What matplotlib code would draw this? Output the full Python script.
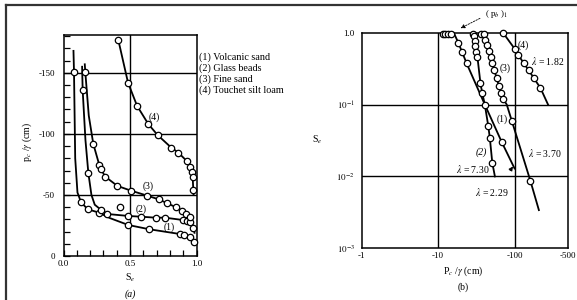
import numpy as np
import matplotlib.pyplot as plt
from matplotlib.lines import Line2D

plt.rcParams["font.family"] = "Liberation Serif"
plt.rcParams["mathtext.fontset"] = "stix"

# ---- panel (a): capillary pressure head vs effective saturation ----
legend_labels = ["(1) Volcanic sand", "(2) Glass beads", "(3) Fine sand", "(4) Touchet silt loam"]

a1_line_x = [0.075, 0.079, 0.088, 0.105, 0.132, 0.182, 0.267, 0.35, 0.487, 0.645, 0.876, 0.951, 0.985]
a1_line_y = [-168, -150.5, -80, -52, -44, -38.3, -35.5, -31, -25.4, -21.9, -18, -15.3, -10]
a1_pts_x = [0.079, 0.132, 0.182, 0.267, 0.487, 0.645, 0.876, 0.906, 0.951, 0.981]
a1_pts_y = [-150.5, -44, -38.3, -35.5, -25.4, -21.9, -18, -17.2, -15.3, -11.7]

a2_line_x = [0.140, 0.144, 0.165, 0.187, 0.21, 0.235, 0.28, 0.33, 0.487, 0.58, 0.693, 0.763, 0.896, 0.926, 0.951, 0.985]
a2_line_y = [-155, -136, -95, -67.8, -50, -42, -38, -34.4, -32.8, -32.2, -31.4, -31.4, -29.5, -28.7, -27.5, -21]
a2_pts_x = [0.144, 0.187, 0.28, 0.33, 0.487, 0.58, 0.693, 0.763, 0.896, 0.926, 0.951]
a2_pts_y = [-136, -67.8, -38, -34.4, -32.8, -32.2, -31.4, -31.4, -29.5, -28.7, -27.5]
a2_odd_x = [0.425]
a2_odd_y = [-40]

a3_line_x = [0.160, 0.164, 0.19, 0.224, 0.269, 0.28, 0.314, 0.405, 0.505, 0.63, 0.716, 0.78, 0.846, 0.891, 0.921, 0.951, 0.976, 0.985]
a3_line_y = [-157, -150.5, -115, -91.8, -74.6, -71.3, -65, -57.4, -53.6, -49.4, -46.4, -43.2, -39.9, -37.2, -34.4, -31.7, -23.2, -19]
a3_pts_x = [0.164, 0.224, 0.269, 0.28, 0.314, 0.405, 0.505, 0.63, 0.716, 0.78, 0.846, 0.891, 0.921, 0.951, 0.976]
a3_pts_y = [-150.5, -91.8, -74.6, -71.3, -65, -57.4, -53.6, -49.4, -46.4, -43.2, -39.9, -37.2, -34.4, -31.7, -23.2]

a4_pts_x = [0.412, 0.485, 0.553, 0.638, 0.708, 0.81, 0.863, 0.926, 0.951, 0.964, 0.971, 0.976]
a4_pts_y = [-177, -142, -123, -108, -99, -88.8, -84.7, -77.9, -73.2, -69, -65, -54]
a4_end = (0.978, -50)

# ---- panel (b): log-log, |Pc/gamma| vs Se ----
b1_line_x = [11.5, 12.4, 13.5, 14.8, 16.0, 18.3, 20.5, 23.6, 40.8, 68, 100]
b1_line_y = [0.97, 0.97, 0.97, 0.97, 1.0, 0.73, 0.544, 0.374, 0.1, 0.030, 0.0129]
b1_pts_x = [11.5, 12.4, 13.5, 14.8, 18.3, 20.5, 23.6, 40.8, 68]
b1_pts_y = [0.97, 0.97, 0.97, 0.97, 0.73, 0.544, 0.374, 0.1, 0.030]

b2_line_x = [28.6, 29.5, 30.1, 30.7, 31.7, 32.7, 35.8, 37.7, 40.8, 45.3, 47.5, 51.1, 55.3]
b2_line_y = [0.97, 0.9, 0.774, 0.653, 0.544, 0.454, 0.197, 0.146, 0.1, 0.05, 0.034, 0.0155, 0.01]
b2_pts_x = [28.6, 29.5, 30.1, 30.7, 31.7, 32.7, 35.8, 37.7, 45.3, 47.5, 51.1]
b2_pts_y = [0.97, 0.9, 0.774, 0.653, 0.544, 0.454, 0.197, 0.146, 0.05, 0.034, 0.0155]

b3_line_x = [36.9, 39.6, 41.0, 43.4, 46.1, 48.5, 51.1, 54.3, 58.3, 62.5, 66.5, 71.5, 79, 92, 161, 208]
b3_line_y = [0.97, 0.97, 0.79, 0.674, 0.556, 0.463, 0.382, 0.302, 0.232, 0.181, 0.143, 0.118, 0.1, 0.0594, 0.0087, 0.0034]
b3_pts_x = [36.9, 39.6, 41.0, 43.4, 46.1, 48.5, 51.1, 54.3, 58.3, 62.5, 66.5, 71.5, 92, 161]
b3_pts_y = [0.97, 0.97, 0.79, 0.674, 0.556, 0.463, 0.382, 0.302, 0.232, 0.181, 0.143, 0.118, 0.0594, 0.0087]

b4_line_x = [71.5, 100, 112, 131, 153, 178, 218, 274]
b4_line_y = [0.98, 0.60, 0.49, 0.38, 0.30, 0.235, 0.17, 0.1]
b4_pts_x = [71.5, 100, 112, 131, 153, 178, 218]
b4_pts_y = [0.98, 0.60, 0.49, 0.38, 0.30, 0.235, 0.17]


def circles(ax, x, y):
    ax.plot(x, y, linestyle="none", marker="o", ms=4.6, mfc="white",
            mec="black", mew=0.9, zorder=5, clip_on=False)


def main():
    fig = plt.figure(figsize=(5.77, 3.0), dpi=100)
    W, H = 577.0, 300.0

    def fx(px):
        return px / W

    def fy(py):
        return 1 - py / H

    # scan frame
    fig.add_artist(Line2D([fx(6), fx(6)], [0, fy(5)], transform=fig.transFigure, color="0.2", lw=1.6))
    fig.add_artist(Line2D([fx(6), 1], [fy(5), fy(5)], transform=fig.transFigure, color="0.2", lw=1.6))

    # ---------------- (a) ----------------
    ax1 = fig.add_axes([fx(63.5), fy(256), (196.5 - 63.5) / W, (256 - 35) / H])
    ax1.set_xlim(0, 1.0)
    ax1.set_ylim(0, -181)
    for v in [-50, -100, -150]:
        ax1.axhline(v, color="black", lw=1.0, zorder=1)
    ax1.axvline(0.5, color="black", lw=1.0, zorder=1)

    ax1.plot(a1_line_x, a1_line_y, color="black", lw=1.3)
    ax1.plot(a2_line_x, a2_line_y, color="black", lw=1.3)
    ax1.plot(a3_line_x, a3_line_y, color="black", lw=1.3)
    ax1.plot(a4_pts_x + [a4_end[0]], a4_pts_y + [a4_end[1]], color="black", lw=1.3)
    circles(ax1, a1_pts_x, a1_pts_y)
    circles(ax1, a2_pts_x, a2_pts_y)
    circles(ax1, a2_odd_x, a2_odd_y)
    circles(ax1, a3_pts_x, a3_pts_y)
    circles(ax1, a4_pts_x, a4_pts_y)

    ax1.text(0.795, -24, "(1)", fontsize=7, ha="center", va="center")
    ax1.text(0.58, -38.5, "(2)", fontsize=7, ha="center", va="center")
    ax1.text(0.633, -57.5, "(3)", fontsize=7, ha="center", va="center")
    ax1.text(0.683, -114, "(4)", fontsize=7, ha="center", va="center")

    ax1.set_xticks([0.0, 0.5, 1.0])
    ax1.set_xticklabels(["0.0", "0.5", "1.0"])
    ax1.set_xticks(np.arange(0, 1.01, 0.1), minor=True)
    ax1.set_yticks([0, -50, -100, -150])
    ax1.set_yticklabels(["0", "-50", "-100", "-150"])
    ax1.set_yticks(np.arange(0, -181, -10), minor=True)
    ax1.tick_params(which="both", direction="in", length=4, width=0.9, top=False, right=False)
    ax1.tick_params(axis="x", which="major", labelsize=6.5, pad=3)
    ax1.tick_params(axis="y", which="major", labelsize=6.5, pad=6)
    for s in ax1.spines.values():
        s.set_linewidth(1.1)

    fig.text(fx(27), fy(142), r"p$_c$ /$\gamma$ (cm)", rotation=90, fontsize=7, ha="center", va="center")
    fig.text(fx(130), fy(278), r"S$_e$", fontsize=7, ha="center", va="center")
    fig.text(fx(130), fy(294), "(a)", fontsize=7, style="italic", ha="center", va="center")
    for i, lab in enumerate(legend_labels):
        fig.text(fx(199), fy(57 + 11.2 * i), lab, fontsize=7.3, ha="left", va="center")

    # ---------------- (b) ----------------
    ax2 = fig.add_axes([fx(361.7), fy(248.3), (568 - 361.7) / W, (248.3 - 32.7) / H])
    ax2.set_xscale("log")
    ax2.set_yscale("log")
    ax2.set_xlim(1, 500)
    ax2.set_ylim(1e-3, 1.0)
    for v in [10, 100]:
        ax2.axvline(v, color="black", lw=1.0, zorder=1)
    for v in [1e-1, 1e-2]:
        ax2.axhline(v, color="black", lw=1.0, zorder=1)

    ax2.plot(b1_line_x, b1_line_y, color="black", lw=1.3, clip_on=False)
    ax2.plot(b2_line_x, b2_line_y, color="black", lw=1.3, clip_on=False)
    ax2.plot(b3_line_x, b3_line_y, color="black", lw=1.3, clip_on=False)
    ax2.plot(b4_line_x, b4_line_y, color="black", lw=1.3, clip_on=False)
    circles(ax2, b1_pts_x, b1_pts_y)
    circles(ax2, b2_pts_x, b2_pts_y)
    circles(ax2, b3_pts_x, b3_pts_y)
    circles(ax2, b4_pts_x, b4_pts_y)

    ax2.text(131, 0.674, "(4)", fontsize=7, ha="center", va="center")
    ax2.text(75, 0.32, "(3)", fontsize=7, ha="center", va="center")
    ax2.text(68, 0.0622, "(1)", fontsize=7, ha="center", va="center")
    ax2.text(36.9, 0.022, "(2)", fontsize=7, style="italic", ha="center", va="center")
    ax2.text(166, 0.404, r"$\lambda$ = 1.82", fontsize=7, ha="left", va="center")
    ax2.text(150, 0.0214, r"$\lambda$ = 3.70", fontsize=7, ha="left", va="center")
    ax2.text(47.5, 0.0126, r"$\lambda$ = 7.30", fontsize=7, ha="right", va="center")
    ax2.text(30, 0.0061, r"$\lambda$ = 2.29", fontsize=7, ha="left", va="center")
    ax2.annotate("", xy=(100, 0.0148), xytext=(83.3, 0.0112),
                 arrowprops=dict(arrowstyle="-|>", color="black", lw=0.7, mutation_scale=6))
    ax2.annotate("", xy=(18.3, 1.11), xytext=(38, 1.65), annotation_clip=False,
                 arrowprops=dict(arrowstyle="-|>", color="black", lw=0.6, ls=(0, (2, 1.5)),
                                 mutation_scale=6))
    ax2.text(58.3, 1.82, r"( p$_b$ )$_1$", fontsize=6.5, ha="center", va="center", clip_on=False)

    ax2.set_xticks([1, 10, 100, 500])
    ax2.set_xticklabels(["-1", "-10", "-100", "-500"])
    ax2.set_xticks([], minor=True)
    ax2.set_yticks([1e-3, 1e-2, 1e-1, 1.0])
    ax2.set_yticklabels([r"$10^{-3}$", r"$10^{-2}$", r"$10^{-1}$", "1.0"])
    ax2.set_yticks([], minor=True)
    ax2.tick_params(which="both", length=0, labelsize=6.5)
    ax2.tick_params(axis="x", pad=3)
    ax2.tick_params(axis="y", pad=5)
    for s in ax2.spines.values():
        s.set_linewidth(1.1)

    fig.text(fx(316.7), fy(140), r"S$_e$", fontsize=7, ha="center", va="center")
    fig.text(fx(463.3), fy(271.7), r"P$_c$ /$\gamma$ (cm)", fontsize=7, ha="center", va="center")
    fig.text(fx(463.3), fy(286.7), "(b)", fontsize=7, ha="center", va="center")

    plt.savefig("out.png", dpi=100)
    plt.close()


if __name__ == "__main__":
    main()
